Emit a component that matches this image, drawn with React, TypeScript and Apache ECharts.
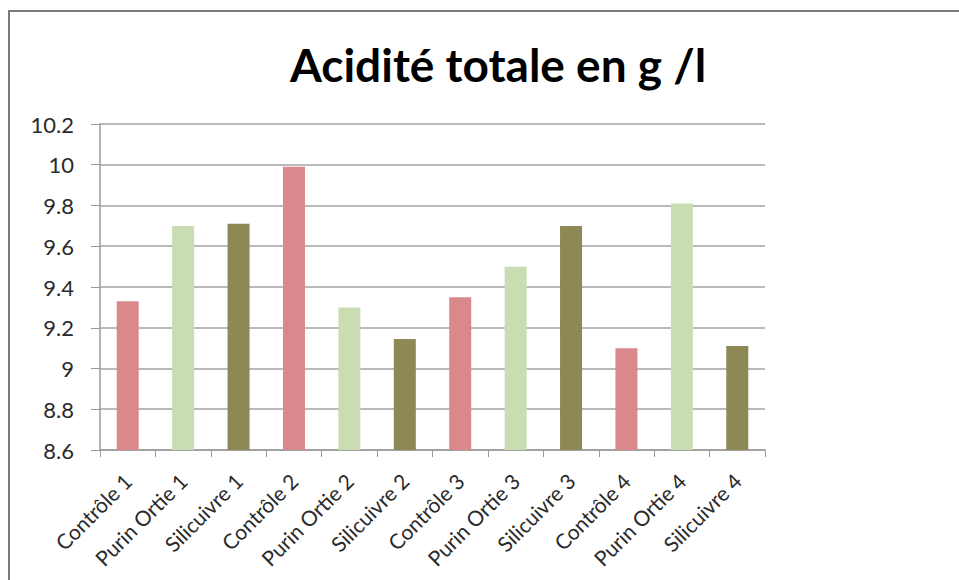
import React, { useEffect, useRef } from "react";
import * as echarts from "echarts";

const categories = [
  "Contrôle 1", "Purin Ortie 1", "Silicuivre 1",
  "Contrôle 2", "Purin Ortie 2", "Silicuivre 2",
  "Contrôle 3", "Purin Ortie 3", "Silicuivre 3",
  "Contrôle 4", "Purin Ortie 4", "Silicuivre 4",
];
const values = [9.33, 9.7, 9.71, 9.99, 9.3, 9.145, 9.35, 9.5, 9.7, 9.1, 9.81, 9.11];
const barColors = ["#d9888c", "#c9dcb2", "#8e8756"];
const titleText = "Acidité totale en g /l";
const yMin = 8.6;
const yMax = 10.2;
const yStep = 0.2;

export default function App() {
  const ref = useRef<HTMLDivElement>(null);
  useEffect(() => {
    const chart = echarts.init(ref.current!, null, { renderer: "svg" });
    const font = "Lato, 'Open Sans', sans-serif";
    chart.setOption({
      animation: false,
      backgroundColor: "#ffffff",
      graphic: [
        {
          type: "polyline",
          shape: { points: [[9, 580], [9, 11], [959, 11]] },
          style: { stroke: "#7a7a7a", lineWidth: 2, fill: "none" },
        },
        {
          type: "text",
          x: 498,
          y: 64,
          style: {
            text: titleText,
            font: `bold 46px ${font}`,
            fill: "#000000",
            textAlign: "center",
            textVerticalAlign: "middle",
          },
        },
      ],
      grid: { left: 100, right: 194, top: 124, bottom: 130, containLabel: false },
      xAxis: {
        type: "category",
        data: categories,
        boundaryGap: true,
        axisLine: { lineStyle: { color: "#9a9a9a", width: 1.5 } },
        axisTick: { show: true, length: 7, alignWithLabel: false, lineStyle: { color: "#9a9a9a" } },
        axisLabel: {
          interval: 0,
          rotate: 45,
          margin: 27,
          fontFamily: font,
          fontSize: 21,
          color: "#2a2a2a",
        },
        splitLine: { show: false },
      },
      yAxis: {
        type: "value",
        min: yMin,
        max: yMax,
        interval: yStep,
        axisLine: { show: true, lineStyle: { color: "#9a9a9a", width: 1.5 } },
        axisTick: { show: true, length: 9, lineStyle: { color: "#9a9a9a" } },
        axisLabel: {
          fontFamily: font,
          fontSize: 22,
          color: "#2a2a2a",
          margin: 26,
          formatter: (v: number) => String(parseFloat(v.toFixed(1))),
        },
        splitLine: { show: true, lineStyle: { color: "#a3a3a3", width: 1.5 } },
      },
      series: [
        {
          type: "bar",
          barWidth: 22,
          data: values.map((v, i) => ({
            value: v,
            itemStyle: { color: barColors[i % 3] },
          })),
        },
      ],
    });
    return () => chart.dispose();
  }, []);
  return (
    <div
      ref={ref}
      style={{ position: "fixed", left: 0, top: 0, width: 959, height: 580 }}
    />
  );
}
